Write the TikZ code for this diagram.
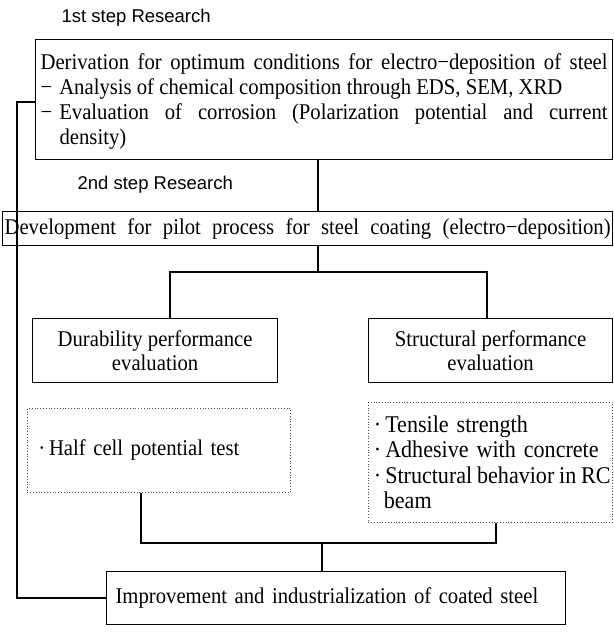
\documentclass[tikz,border=0pt]{standalone}
\usepackage{fontspec}
\setmainfont{Liberation Serif}[FakeStretch=0.92]
\newfontfamily\stepfont{Liberation Sans}
\newcommand\jline[2]{\leavevmode\hbox to #1{\spaceskip=0.25em plus 1fil minus 0.05em\relax #2}}
\begin{document}
\begin{tikzpicture}[x=1pt,y=-1pt,line width=1.2pt,
  box/.style={draw,rectangle,inner sep=0pt,anchor=north west,font=\fontsize{22.5}{24}\selectfont},
  dotbox/.style={draw=black!70,dotted,line width=0.8pt,rectangle,inner sep=0pt,anchor=north west,font=\fontsize{22.5}{25.5}\selectfont},
  steplabel/.style={anchor=west,inner sep=0pt,font=\stepfont\fontsize{18.5}{22}\selectfont},
  conn/.style={line width=1.3pt}]
\useasboundingbox (0,0) rectangle (614,633);

\node[steplabel] (s1) at (61,18) {1st step Research};
\node[box,minimum width=577pt,minimum height=120pt,font=\fontsize{22.5}{25}\selectfont] (b1) at (35,39)
 {\parbox[c][120pt][t]{567pt}{\raggedright
  \jline{567pt}{\rule{0pt}{30pt}Derivation for optimum conditions for electro−deposition of steel}\\
  −\kern7pt Analysis of chemical composition through EDS, SEM, XRD\\
  \jline{567pt}{−\kern7pt Evaluation of corrosion (Polarization potential and current}\\
  \hspace*{19pt}density)}};

\node[steplabel] (s2) at (77,185) {2nd step Research};
\node[box,minimum width=610pt,minimum height=34pt,text width=606pt,align=left] (b2) at (2,211)
 {\jline{606pt}{Development for pilot process for steel coating (electro−deposition)}};

\node[box,minimum width=245pt,minimum height=64pt,align=center] (b3) at (32,318)
 {Durability performance\\evaluation};
\node[box,minimum width=244pt,minimum height=64pt,align=center] (b4) at (368,318)
 {Structural performance\\evaluation};

\node[dotbox,minimum width=263pt,minimum height=84pt,text width=241pt,align=left] (b5) at (27,408)
 {·\,Half cell potential test};
\node[dotbox,minimum width=244pt,minimum height=120pt,text width=233pt,align=left,font=\fontsize{24}{25.5}\selectfont] (b6) at (368,402)
 {·\,Tensile strength\\
  ·\,Adhesive with concrete\\
  \jline{233pt}{·\,Structural behavior in RC}\\
  \hspace*{10pt}beam};

\node[box,minimum width=459pt,minimum height=53pt,text width=441pt,align=left] (b7) at (106,571)
 {Improvement and industrialization of coated steel};

\coordinate (j1) at (318,272);
\coordinate (hl) at (170,272);
\coordinate (hr) at (487,272);
\coordinate (bl) at (141,543);
\coordinate (br) at (496,543);
\coordinate (j2) at (322,543);
\coordinate (fb) at (17,102);

\draw[conn] (b1.south -| j1) -- (b2.north -| j1);
\draw[conn] (b2.south -| j1) -- (j1);
\draw[conn] (b3.north -| hl) -- (hl) -- (hr) -- (b4.north -| hr);
\draw[conn] (b5.south -| bl) -- (bl) -- (br) -- (b6.south -| br);
\draw[conn] (j2) -- (b7.north -| j2);
\draw[conn] (b1.west |- fb) -- (fb) |- (b7.west);
\end{tikzpicture}
\end{document}
